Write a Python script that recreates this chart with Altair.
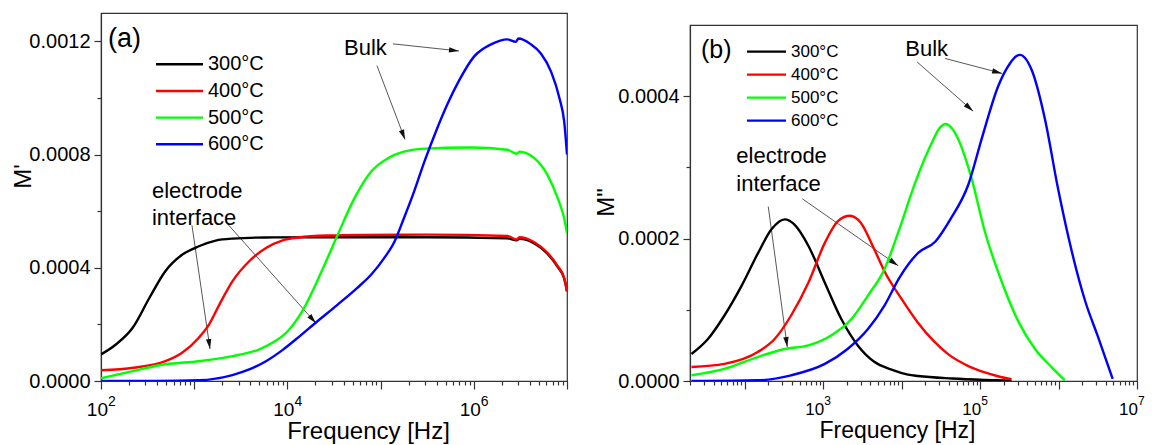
import math
import altair as alt
import pandas as pd

FONT = "Liberation Sans"
INK = "#333333"

temps = ["300°C", "400°C", "500°C", "600°C"]
line_colors = ["#000000", "#ff0000", "#00ff00", "#0000ff"]

# ---------------- Panel (a): M'  (frequency given as log10(f / Hz)) ----------------
a300_logf = [2.0, 2.16, 2.34, 2.52, 2.69, 2.87, 3.05, 3.23, 3.41, 3.77, 4.45, 5.5, 6.36, 6.46, 6.49, 6.65, 6.79, 6.9, 6.97, 7.0]
a300_m = [9.4e-5, 1.29e-4, 1.88e-4, 2.94e-4, 3.88e-4, 4.46e-4, 4.76e-4, 4.96e-4, 5.03e-4, 5.07e-4,
          5.08e-4, 5.08e-4, 5.04e-4, 4.97e-4, 5.02e-4, 4.86e-4, 4.5e-4, 4.03e-4, 3.62e-4, 3.17e-4]

a400_logf = [2.0, 2.35, 2.69, 2.87, 3.05, 3.16, 3.27, 3.41, 3.59, 3.77, 3.95, 4.12, 4.45, 4.8, 5.5,
             6.36, 6.46, 6.49, 6.65, 6.79, 6.9, 6.97, 7.0]
a400_m = [3.8e-5, 4.7e-5, 7.0e-5, 1.0e-4, 1.53e-4, 2.0e-4, 2.7e-4, 3.52e-4, 4.23e-4, 4.7e-4,
          4.97e-4, 5.07e-4, 5.14e-4, 5.16e-4, 5.17e-4, 5.12e-4, 5.0e-4, 5.08e-4, 4.9e-4, 4.53e-4,
          4.06e-4, 3.64e-4, 3.17e-4]

a500_logf = [2.0, 2.34, 2.69, 3.05, 3.41, 3.70, 3.87, 4.0, 4.16, 4.36, 4.54, 4.72, 4.9, 5.08, 5.25,
             5.43, 5.97, 6.36, 6.46, 6.49, 6.65, 6.79, 6.9, 6.97, 7.0]
a500_m = [9.5e-6, 3.5e-5, 5.9e-5, 7.0e-5, 8.8e-5, 1.12e-4, 1.41e-4, 1.75e-4, 2.47e-4, 3.82e-4,
          5.17e-4, 6.46e-4, 7.4e-4, 7.87e-4, 8.1e-4, 8.2e-4, 8.25e-4, 8.17e-4, 8.03e-4, 8.1e-4,
          7.87e-4, 7.28e-4, 6.46e-4, 5.75e-4, 5.23e-4]

a600_logf = [2.0, 2.6, 3.05, 3.41, 3.59, 3.77, 3.95, 4.12, 4.30, 4.54, 4.75, 4.90, 5.04, 5.15, 5.25,
             5.36, 5.47, 5.58, 5.72, 5.84, 6.0, 6.19, 6.36, 6.45, 6.48, 6.61, 6.72, 6.83, 6.92, 6.97, 7.0]
a600_m = [0.0, 0.0, 2.5e-6, 2.1e-5, 4.1e-5, 7.0e-5, 1.1e-4, 1.55e-4, 2.05e-4, 2.7e-4,
          3.29e-4, 3.76e-4, 4.35e-4, 4.93e-4, 5.75e-4, 6.7e-4, 7.75e-4, 8.7e-4, 9.8e-4, 1.06e-3,
          1.145e-3, 1.19e-3, 1.207e-3, 1.198e-3, 1.21e-3, 1.19e-3, 1.157e-3, 1.092e-3, 9.98e-4, 9.16e-4,
          8.0e-4]

# ---------------- Panel (b): M'' ----------------
b300_logf = [1.32, 1.53, 1.74, 1.96, 2.17, 2.34, 2.51, 2.63, 2.81, 3.02, 3.23, 3.44, 3.65, 3.87, 4.08,
             4.21, 4.64, 5.06, 5.40]
b300_m = [3.8e-5, 5.9e-5, 9.2e-5, 1.34e-4, 1.8e-4, 2.13e-4, 2.27e-4, 2.2e-4, 1.9e-4, 1.38e-4,
          8.7e-5, 5.0e-5, 2.7e-5, 1.6e-5, 9e-6, 7e-6, 3.5e-6, 1.5e-6, 5e-7]

b400_logf = [1.32, 1.74, 2.17, 2.38, 2.59, 2.81, 3.02, 3.19, 3.34, 3.48, 3.65, 3.79, 4.0, 4.2, 4.4,
             4.6, 4.85, 5.06, 5.25, 5.40]
b400_m = [1.96e-5, 2.4e-5, 4.1e-5, 5.9e-5, 9.2e-5, 1.38e-4, 1.94e-4, 2.25e-4, 2.32e-4, 2.22e-4,
          1.85e-4, 1.52e-4, 1.15e-4, 8.3e-5, 5.7e-5, 3.7e-5, 2.1e-5, 1.2e-5, 6e-6, 2.4e-6]

b500_logf = [1.32, 1.74, 2.17, 2.51, 2.81, 3.10, 3.36, 3.57, 3.78, 3.96, 4.17, 4.39, 4.48, 4.56, 4.64,
             4.72, 4.89, 5.06, 5.28, 5.49, 5.70, 5.91, 6.08]
b500_m = [8e-6, 1.7e-5, 3.4e-5, 4.5e-5, 5.0e-5, 6.4e-5, 8.7e-5, 1.2e-4, 1.57e-4, 2.1e-4,
          2.78e-4, 3.36e-4, 3.55e-4, 3.61e-4, 3.55e-4, 3.4e-4, 2.85e-4, 2.1e-4, 1.38e-4, 8.3e-5,
          4.5e-5, 1.96e-5, 1e-6]

b600_logf = [1.32, 2.17, 2.59, 3.02, 3.31, 3.57, 3.78, 3.97, 4.21, 4.43, 4.62, 4.85, 5.03, 5.23, 5.38,
             5.46, 5.51, 5.57, 5.66, 5.83, 5.99, 6.13, 6.34, 6.50, 6.69]
b600_m = [0.0, 1e-6, 8e-6, 2.4e-5, 4.5e-5, 7.3e-5, 1.06e-4, 1.45e-4, 1.8e-4, 1.96e-4,
          2.27e-4, 2.76e-4, 3.44e-4, 4.14e-4, 4.46e-4, 4.56e-4, 4.58e-4, 4.54e-4, 4.36e-4, 3.66e-4,
          2.72e-4, 2.0e-4, 1.12e-4, 6.3e-5, 3e-6]

# ---------------- Annotations (log10 f, value) ----------------
a_note_text = ["Bulk", "electrode", "interface"]
a_note_logf = [4.607, 2.547, 2.547]
a_note_val = [1.152e-3, 6.48e-4, 5.5e-4]
a_arrow_start_logf = [5.133, 4.961, 2.976, 3.363]
a_arrow_start_val = [1.191e-3, 1.114e-3, 5.5e-4, 5.53e-4]
a_arrow_end_logf = [5.841, 5.262, 3.17, 4.307]
a_arrow_end_val = [1.166e-3, 8.53e-4, 1.13e-4, 2.04e-4]

b_note_text = ["Bulk", "electrode", "interface"]
b_note_logf = [4.045, 1.892, 1.892]
b_note_val = [4.57e-4, 3.06e-4, 2.67e-4]
b_arrow_start_logf = [4.554, 4.197, 2.299, 2.732]
b_arrow_start_val = [4.53e-4, 4.48e-4, 2.45e-4, 2.56e-4]
b_arrow_end_logf = [5.28, 4.911, 2.541, 3.955]
b_arrow_end_val = [4.32e-4, 3.79e-4, 4.76e-5, 1.62e-4]

# tick positions and tick labels
a_x_ticks = [m * 10 ** k for k in range(2, 7) for m in range(1, 10)] + [1e7]
b_x_ticks = [m * 10 ** k for k in range(1, 7) for m in range(1, 10) if m * 10 ** k >= 20] + [1e7]
a_y_ticks = [0.0, 0.0002, 0.0004, 0.0006, 0.0008, 0.0010, 0.0012]
b_y_ticks = [0.0, 0.0001, 0.0002, 0.0003, 0.0004]
a_xlabel_at = [1e2, 1e4, 1e6]
a_xlabel_exp = ["2", "4", "6"]
b_xlabel_at = [1e3, 1e5, 1e7]
b_xlabel_exp = ["3", "5", "7"]

HEAD = "M0,0L-0.27,1L0.27,1Z"


def series_table(groups):
    rows = []
    for name, lfs, ms in groups:
        for lf, m in zip(lfs, ms):
            rows.append({"T": name, "f": 10 ** lf, "m": m})
    return pd.DataFrame(rows)


def arrow_table(sl, sv, el, ev, xlog0, xlog1, ymax, w, h):
    rows = []
    for a, b, c, d in zip(sl, sv, el, ev):
        x1 = (a - xlog0) / (xlog1 - xlog0) * w
        x2 = (c - xlog0) / (xlog1 - xlog0) * w
        y1 = (1 - b / ymax) * h
        y2 = (1 - d / ymax) * h
        ang = math.degrees(math.atan2(x2 - x1, -(y2 - y1))) % 360
        rows.append({"x1": 10 ** a, "y1": b, "x2": 10 ** c, "y2": d, "ang": ang})
    return pd.DataFrame(rows)


def note_table(texts, lfs, vals):
    return pd.DataFrame({"t": texts, "x": [10 ** v for v in lfs], "y": vals})


def x_axis(ticks, title_x, title_y, title_size):
    return alt.Axis(
        values=ticks, labels=False, title="Frequency [Hz]", grid=False,
        titleFont=FONT, titleFontSize=title_size, titleFontWeight="normal", titleColor="black",
        titleX=title_x, titleY=title_y, titleAlign="center", titleBaseline="alphabetic",
        tickColor=INK, tickWidth=1.2, domainColor=INK, domainWidth=1.2,
        tickSize={"condition": {"test": "abs(log(datum.value)/LN10 - round(log(datum.value)/LN10)) < 0.001",
                                "value": 8}, "value": 4},
    )


def y_axis(values, step, title, title_x, title_y):
    test = f"abs(datum.value/{step} - round(datum.value/{step})) < 0.001"
    return alt.Axis(
        values=values, labelExpr=f"({test}) ? format(datum.value, '.4f') : ''",
        title=title, grid=False,
        titleFont=FONT, titleFontSize=24, titleFontWeight="normal", titleColor="black",
        titleX=title_x, titleY=title_y, titleAngle=-90, titleAlign="center", titleBaseline="middle",
        labelFont=FONT, labelFontSize=20, labelColor="black", labelPadding=4, labelOverlap=False,
        tickColor=INK, tickWidth=1.2, domainColor=INK, domainWidth=1.2,
        tickSize={"condition": {"test": test, "value": 7}, "value": 4},
    )


def panel(df, arrows, notes, tag, tag_x, tag_y, tag_size, xdom, ydom, w, h, xa, ya,
          leg_x1, leg_x2, leg_tx, leg_first, leg_last, leg_size, xl_at, xl_exp, xl_font, xl_dx, xl_base_dy):
    xs = alt.Scale(type="log", domain=xdom, nice=False)
    ys = alt.Scale(type="linear", domain=ydom, nice=False, zero=False)
    cs = alt.Scale(domain=temps, range=line_colors)

    arrow_lines = alt.Chart(arrows).mark_rule(color="#444444", strokeWidth=0.9).encode(
        x=alt.X("x1:Q", scale=xs, axis=xa), x2="x2:Q",
        y=alt.Y("y1:Q", scale=ys, axis=ya), y2="y2:Q")
    heads = alt.Chart(arrows).mark_point(shape=HEAD, filled=True, size=400, color="#111111",
                                         opacity=1, strokeWidth=0).encode(
        x=alt.X("x2:Q", scale=xs, axis=xa), y=alt.Y("y2:Q", scale=ys, axis=ya),
        angle=alt.Angle("ang:Q", scale=None))
    lines = alt.Chart(df).mark_line(strokeWidth=2.4, interpolate="monotone", clip=True).encode(
        x=alt.X("f:Q", scale=xs, axis=xa),
        y=alt.Y("m:Q", scale=ys, axis=ya),
        color=alt.Color("T:N", scale=cs, legend=None))
    texts = alt.Chart(notes).mark_text(font=FONT, fontSize=22, align="left", baseline="alphabetic",
                                       color="black").encode(
        x=alt.X("x:Q", scale=xs, axis=xa), y=alt.Y("y:Q", scale=ys, axis=ya), text="t:N")
    label = alt.Chart(pd.DataFrame({"t": [tag]})).mark_text(
        font=FONT, fontSize=tag_size, align="left", baseline="middle", color="black").encode(
        x=alt.value(tag_x), y=alt.value(tag_y), text="t:N")

    # x tick labels: "10" with a superscript exponent
    xl_df = pd.DataFrame({"f": xl_at, "base": ["10"] * len(xl_at), "exp": xl_exp})
    xl_base = alt.Chart(xl_df).mark_text(font=FONT, fontSize=xl_font, align="right",
                                         baseline="alphabetic", dx=xl_dx, color="black").encode(
        x=alt.X("f:Q", scale=xs, axis=xa), y=alt.value(h + xl_base_dy), text="base:N")
    xl_exp_t = alt.Chart(xl_df).mark_text(font=FONT, fontSize=round(xl_font * 0.72), align="left",
                                          baseline="alphabetic", dx=xl_dx, color="black").encode(
        x=alt.X("f:Q", scale=xs, axis=xa), y=alt.value(h + xl_base_dy - 10), text="exp:N")

    # in-plot legend: point scale (default padding 0.5) spanning the rows
    step = (leg_last - leg_first) / (len(temps) - 1)
    leg_df = pd.DataFrame({"T": temps})
    ly = alt.Y("T:N", scale=alt.Scale(domain=temps, range=[leg_first - step / 2, leg_last + step / 2]),
               axis=None)
    leg_rule = alt.Chart(leg_df).mark_rule(strokeWidth=2.4).encode(
        x=alt.value(leg_x1), x2=alt.value(leg_x2), y=ly,
        color=alt.Color("T:N", scale=cs, legend=None))
    leg_text = alt.Chart(leg_df).mark_text(font=FONT, fontSize=leg_size, align="left",
                                           baseline="middle", color="black").encode(
        x=alt.value(leg_tx), y=ly, text="T:N")

    main = alt.layer(arrow_lines, heads, lines, texts, label, xl_base, xl_exp_t)
    legend = alt.layer(leg_rule, leg_text)
    return alt.layer(main, legend).resolve_scale(y="independent").properties(width=w, height=h)


WA, HA = 466, 368
WB, HB = 447, 356
B_XMIN = 20

df_a = series_table([(temps[0], a300_logf, a300_m), (temps[1], a400_logf, a400_m),
                     (temps[2], a500_logf, a500_m), (temps[3], a600_logf, a600_m)])
df_b = series_table([(temps[0], b300_logf, b300_m), (temps[1], b400_logf, b400_m),
                     (temps[2], b500_logf, b500_m), (temps[3], b600_logf, b600_m)])

arr_a = arrow_table(a_arrow_start_logf, a_arrow_start_val, a_arrow_end_logf, a_arrow_end_val,
                    2.0, 7.0, 0.0013, WA, HA)
arr_b = arrow_table(b_arrow_start_logf, b_arrow_start_val, b_arrow_end_logf, b_arrow_end_val,
                    math.log10(B_XMIN), 7.0, 0.0005, WB, HB)

notes_a = note_table(a_note_text, a_note_logf, a_note_val)
notes_b = note_table(b_note_text, b_note_logf, b_note_val)

xa_a = x_axis(a_x_ticks, 267, 57, 24)
xa_b = x_axis(b_x_ticks, 207, 56, 23)
ya_a = y_axis(a_y_ticks, 0.0004, "M'", -78, 163)
ya_b = y_axis(b_y_ticks, 0.0002, 'M"', -84, 177)

panel_a = panel(df_a, arr_a, notes_a, "(a)", 7, 26, 27, [100, 1e7], [0, 0.0013], WA, HA, xa_a, ya_a,
                55, 102, 107, 51.3, 131.3, 20, a_xlabel_at, a_xlabel_exp, 19, 7, 35)
panel_b = panel(df_b, arr_b, notes_b, "(b)", 11, 25, 25, [B_XMIN, 1e7], [0, 0.0005], WB, HB, xa_b, ya_b,
                57, 96, 101, 26.6, 95.6, 17, b_xlabel_at, b_xlabel_exp, 17, 1, 34)

spacer = alt.Chart(pd.DataFrame({"s": [0]})).mark_point(opacity=0, size=1).encode(
    x=alt.value(0), y=alt.value(0)
).properties(width=WB, height=1, view=alt.ViewBackground(stroke=None))

right = alt.vconcat(spacer, panel_b, spacing=10)

chart = alt.hconcat(panel_a, right, spacing=24).properties(
    padding={"left": 2, "top": 4, "right": 0, "bottom": 0}
).configure(font=FONT).configure_view(stroke=INK, strokeWidth=1.2)

chart.save("out.html", embed_options={"renderer": "svg", "actions": False})
